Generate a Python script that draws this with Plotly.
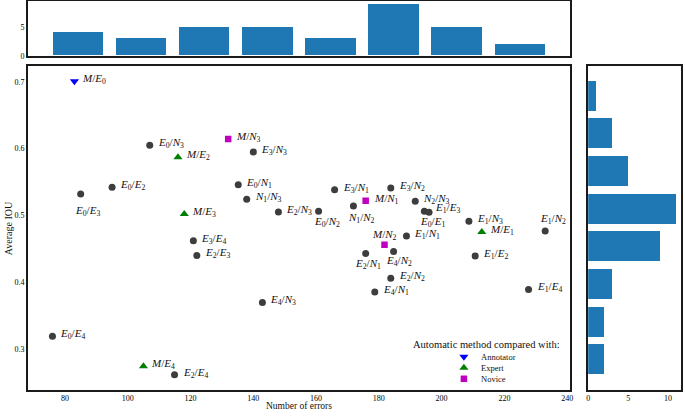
import numpy as np
import plotly.graph_objects as go

# ---------------- data ----------------
annot_labels = ["M/E0"]
annot_errors = [83.0]
annot_iou = [0.701]

expert_labels = ["M/E1", "M/E2", "M/E3", "M/E4"]
expert_errors = [212.8, 116.0, 118.0, 105.0]
expert_iou = [0.475, 0.587, 0.502, 0.274]

novice_labels = ["M/N1", "M/N2", "M/N3"]
novice_errors = [175.8, 181.8, 132.0]
novice_iou = [0.522, 0.456, 0.6145]

pair_labels = ["E0/E1", "E0/E2", "E0/E3", "E0/E4", "E0/N1", "E0/N2", "E0/N3",
               "E1/E2", "E1/E3", "E1/E4", "E1/N1", "E1/N2", "E1/N3",
               "E2/E3", "E2/E4", "E2/N1", "E2/N2", "E2/N3",
               "E3/E4", "E3/N1", "E3/N2", "E3/N3",
               "E4/N1", "E4/N2", "E4/N3",
               "N1/N2", "N1/N3", "N2/N3"]
pair_errors = [194.5, 95.0, 85.0, 76.0, 135.2, 160.8, 107.0,
               210.7, 196.0, 227.7, 188.8, 233.0, 208.7,
               122.0, 114.9, 175.8, 183.8, 148.0,
               120.9, 165.9, 183.8, 140.0,
               178.7, 184.7, 142.9,
               171.9, 137.9, 191.6]
pair_iou = [0.506, 0.542, 0.532, 0.319, 0.546, 0.506, 0.605,
            0.439, 0.5045, 0.389, 0.469, 0.4767, 0.491,
            0.440, 0.261, 0.443, 0.4056, 0.505,
            0.462, 0.5385, 0.541, 0.595,
            0.385, 0.446, 0.3696,
            0.514, 0.524, 0.521]

top_counts = [4, 3, 5, 5, 3, 9, 5, 2]          # errors histogram, left to right
right_counts = [2, 2, 3, 9, 11, 5, 3, 1]       # IOU histogram, bottom to top

x_ticks = [80, 100, 120, 140, 160, 180, 200, 220, 240]
y_ticks = [0.3, 0.4, 0.5, 0.6, 0.7]

legend_names = ["Annotator", "Expert", "Novice"]
legend_title = "Automatic method compared with:"

# ---------------- styles ----------------
FONT = "Liberation Serif"
DOT = "#3d3d3d"
BAR = "#1f77b4"
LINE = "#1a1a1a"
TXT = "#111111"
W, H = 685, 416
sym = {"Annotator": ("triangle-down", "#0000ff", 8),
       "Expert": ("triangle-up", "#008000", 8),
       "Novice": ("square", "#bf00bf", 6.5)}

# label placement: (xanchor, dx px, dy px up)
label_pos = {
    "E0/E3": ("center", 7, -17),
    "E0/N2": ("center", 8, -11),
    "N1/N2": ("center", 8, -12),
    "E0/E1": ("center", 8, -11),
    "E1/E3": ("left", 4, 4),
    "E1/N2": ("center", 8, 12),
    "M/N2": ("center", 0, 10),
    "E2/N1": ("center", 2, -11),
    "E4/N2": ("center", 5, -10),
}


def fmt(lbl):
    a, b = lbl.split("/")

    def one(s):
        if len(s) == 1:
            return "<i>%s</i>" % s
        return "<i>%s</i><sub>%s</sub>" % (s[0], s[1:])
    return one(a) + "/" + one(b)


all_x = np.array(annot_errors + expert_errors + novice_errors + pair_errors)
all_y = np.array(annot_iou + expert_iou + novice_iou + pair_iou)


def pad_range(lo, hi, m=0.05):
    s = hi - lo
    return [lo - m * s, hi + m * s]


# histogram geometry (8 bins over data range, bars 80% of bin width)
xe = np.linspace(all_x.min(), all_x.max(), len(top_counts) + 1)
xc = (xe[:-1] + xe[1:]) / 2
xbw = (xe[1] - xe[0]) * 0.8
ye = np.linspace(all_y.min(), all_y.max(), len(right_counts) + 1)
yc = (ye[:-1] + ye[1:]) / 2
ybw = (ye[1] - ye[0]) * 0.8

fig = go.Figure()

# pairs
fig.add_trace(go.Scatter(x=pair_errors, y=pair_iou, mode="markers", name="Pairs",
                         marker=dict(symbol="circle", size=7, color=DOT),
                         showlegend=False, xaxis="x", yaxis="y"))
for nm, xs, ys in [("Annotator", annot_errors, annot_iou),
                   ("Expert", expert_errors, expert_iou),
                   ("Novice", novice_errors, novice_iou)]:
    s, c, sz = sym[nm]
    fig.add_trace(go.Scatter(x=xs, y=ys, mode="markers", name=nm, showlegend=False,
                             marker=dict(symbol=s, size=sz, color=c), xaxis="x", yaxis="y"))

# histograms
fig.add_trace(go.Bar(x=xc, y=top_counts, width=xbw, marker=dict(color=BAR, line=dict(width=0)),
                     showlegend=False, xaxis="x2", yaxis="y2"))
fig.add_trace(go.Bar(y=yc, x=right_counts, width=ybw, orientation="h",
                     marker=dict(color=BAR, line=dict(width=0)),
                     showlegend=False, xaxis="x3", yaxis="y3"))

# compact legend keys on an overlay axis in figure-pixel units
leg_x0, leg_y0, leg_dy = 465.3, 361.0, 11.2
for i, nm in enumerate(legend_names):
    s, c, sz = sym[nm]
    fig.add_trace(go.Scatter(x=[leg_x0], y=[leg_y0 + i * leg_dy], mode="markers", showlegend=False,
                             hoverinfo="skip", marker=dict(symbol=s, size=sz, color=c),
                             xaxis="x4", yaxis="y4"))

# point labels
annotations = []
for lbls, xs, ys in [(annot_labels, annot_errors, annot_iou),
                     (expert_labels, expert_errors, expert_iou),
                     (novice_labels, novice_errors, novice_iou),
                     (pair_labels, pair_errors, pair_iou)]:
    for l, xv, yv in zip(lbls, xs, ys):
        anc, dx, dy = label_pos.get(l, ("left", 6, 2))
        annotations.append(dict(x=xv, y=yv, xref="x", yref="y", text=fmt(l), showarrow=False,
                                xanchor=anc, yanchor="middle", xshift=dx, yshift=dy,
                                font=dict(family=FONT, size=11, color=TXT)))

# legend texts
for i, nm in enumerate(legend_names):
    annotations.append(dict(x=480.5, y=leg_y0 + i * leg_dy, xref="x4", yref="y4", text=nm,
                            showarrow=False, xanchor="left", yanchor="middle",
                            font=dict(family=FONT, size=8.5, color=TXT)))
annotations.append(dict(x=488, y=349, xref="x4", yref="y4", text=legend_title,
                        showarrow=False, xanchor="center", yanchor="middle",
                        font=dict(family=FONT, size=10.5, color=TXT)))

# axis titles
annotations.append(dict(x=299 / W, y=1 - 410.8 / H, xref="paper", yref="paper", text="Number of errors",
                        showarrow=False, xanchor="center", yanchor="middle",
                        font=dict(family=FONT, size=9.5, color=TXT)))
annotations.append(dict(x=6 / W, y=1 - 231 / H, xref="paper", yref="paper", text="Average IOU",
                        showarrow=False, xanchor="center", yanchor="middle", textangle=-90,
                        font=dict(family=FONT, size=10, color=TXT)))

axis_common = dict(showline=True, mirror=True, linecolor=LINE, linewidth=1.5, showgrid=False,
                   zeroline=False, ticks="", tickfont=dict(family=FONT, size=8, color="#000000"))

main_dom_y = [(H - 394.3) / H, (H - 67.3) / H]

fig.update_layout(
    width=W, height=H,
    margin=dict(l=0, r=0, t=0, b=0),
    paper_bgcolor="white", plot_bgcolor="rgba(0,0,0,0)",
    showlegend=False,
    xaxis=dict(domain=[26 / W, 572 / W], range=pad_range(all_x.min(), all_x.max()),
               tickvals=x_ticks, **axis_common),
    yaxis=dict(domain=main_dom_y, range=pad_range(all_y.min(), all_y.max()),
               tickvals=y_ticks, tickformat=".1f", **axis_common),
    xaxis2=dict(domain=[26 / W, 571.7 / W], anchor="y2",
                range=pad_range(xc[0] - xbw / 2, xc[-1] + xbw / 2), showticklabels=False, **axis_common),
    yaxis2=dict(domain=[(H - 56.5) / H, (H - 1.5) / H], anchor="x2",
                range=[0, max(top_counts) * 1.05], tickvals=[0, 5], **axis_common),
    xaxis3=dict(domain=[590.5 / W, 683.5 / W], anchor="y3",
                range=[0, max(right_counts) * 1.05], tickvals=[0, 5, 10], **axis_common),
    yaxis3=dict(domain=main_dom_y, anchor="x3",
                range=pad_range(yc[0] - ybw / 2, yc[-1] + ybw / 2), showticklabels=False, **axis_common),
    xaxis4=dict(domain=[0, 1], range=[0, W], visible=False, anchor="y4", fixedrange=True),
    yaxis4=dict(domain=[0, 1], range=[H, 0], visible=False, anchor="x4", fixedrange=True),
    annotations=annotations,
    bargap=0,
)

fig.write_html("out.html", config={"displayModeBar": False},
               post_script="document.body.style.margin='0';document.body.style.overflow='hidden';")
